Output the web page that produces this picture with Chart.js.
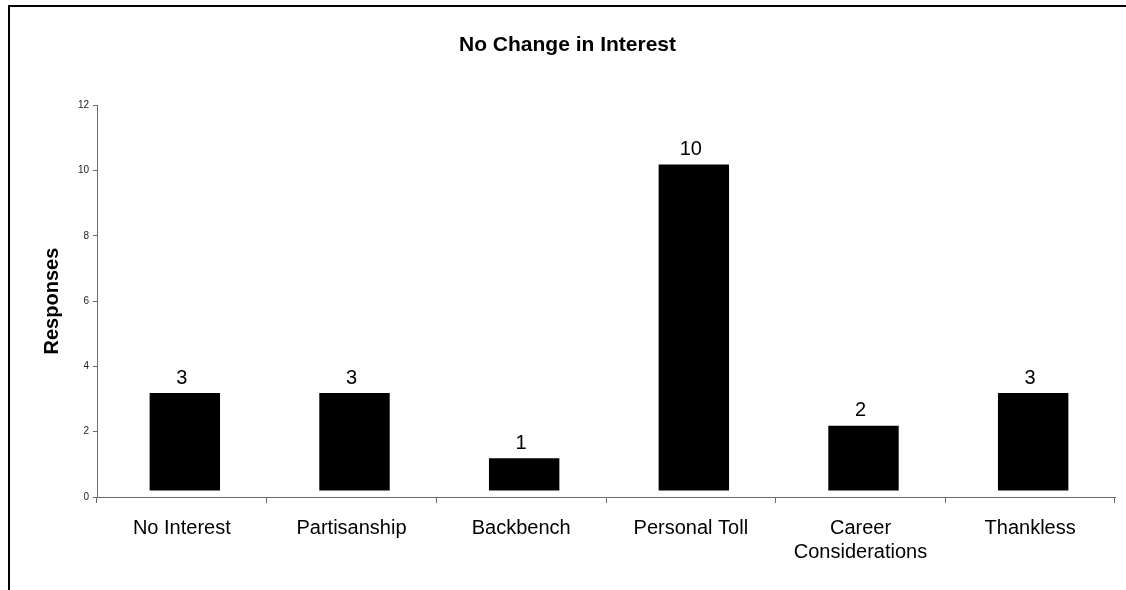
<!DOCTYPE html>
<html>
<head>
<meta charset="utf-8">
<title>No Change in Interest</title>
<script src="https://cdn.jsdelivr.net/npm/chart.js@4/dist/chart.umd.min.js"></script>
<style>
  html, body { margin: 0; padding: 0; background: #fff; }
  #wrap { position: relative; width: 1126px; height: 590px; }
</style>
</head>
<body>
<div id="wrap"><canvas id="interestChart"></canvas></div>
<script>
// Survey answers per reason
const categories = ['No Interest', 'Partisanship', 'Backbench', 'Personal Toll', ['Career', 'Considerations'], 'Thankless'];
const responses = [3, 3, 1, 10, 2, 3];
const yTicks = [0, 2, 4, 6, 8, 10, 12];

const FONT = 'Arial, "Liberation Sans", Helvetica, sans-serif';
const AXIS = '#6b6b6b';

// the outer frame (top and left edge only)
const framePlugin = {
  id: 'frame',
  beforeDraw(chart) {
    const ctx = chart.ctx;
    ctx.save();
    ctx.strokeStyle = '#000';
    ctx.lineWidth = 2;
    ctx.beginPath();
    ctx.moveTo(9, chart.height);
    ctx.lineTo(9, 6);
    ctx.lineTo(chart.width, 6);
    ctx.stroke();
    ctx.restore();
  }
};

// bars sit a little right/up of their slot
const barShift = {
  id: 'barShift',
  beforeDatasetsDraw(chart) {
    chart.ctx.save();
    chart.ctx.translate(3, -6);
  },
  afterDatasetsDraw(chart) {
    chart.ctx.restore();
  }
};

// value above each bar
const valueLabels = {
  id: 'valueLabels',
  afterDraw(chart) {
    const ctx = chart.ctx;
    const meta = chart.getDatasetMeta(0);
    const y = chart.scales.y;
    ctx.save();
    ctx.font = '20px ' + FONT;
    ctx.fillStyle = '#000';
    ctx.textAlign = 'center';
    ctx.textBaseline = 'middle';
    meta.data.forEach((bar, i) => {
      const v = responses[i];
      ctx.fillText(String(v), bar.x, y.getPixelForValue(v) - 21);
    });
    ctx.restore();
  }
};

new Chart(document.getElementById('interestChart'), {
  type: 'bar',
  data: {
    labels: categories,
    datasets: [{
      data: responses,
      backgroundColor: '#000',
      borderColor: '#000',
      borderWidth: 0,
      categoryPercentage: 1,
      barPercentage: 0.415
    }]
  },
  options: {
    responsive: true,
    maintainAspectRatio: false,
    animation: false,
    layout: { padding: { left: 20, right: 11, top: 0, bottom: 0 } },
    plugins: {
      legend: { display: false },
      tooltip: { enabled: false },
      title: {
        display: true,
        text: 'No Change in Interest',
        color: '#000',
        font: { family: FONT, size: 21, weight: 'bold', lineHeight: 1.2 },
        padding: { top: 33, bottom: 47 }
      }
    },
    scales: {
      x: {
        grid: {
          display: true,
          drawOnChartArea: false,
          drawTicks: true,
          tickLength: 6,
          color: AXIS,
          offset: true
        },
        border: { color: AXIS, width: 1 },
        ticks: {
          color: '#000',
          padding: 13,
          maxRotation: 0,
          autoSkip: false,
          font: { family: FONT, size: 20, lineHeight: 1.2 }
        },
        afterFit: scale => { scale.height = 93; }
      },
      y: {
        min: 0,
        max: 12,
        afterBuildTicks: scale => { scale.ticks = yTicks.map(v => ({ value: v })); },
        grid: {
          display: true,
          drawOnChartArea: false,
          drawTicks: true,
          tickLength: 4,
          color: AXIS
        },
        border: { color: AXIS, width: 1 },
        ticks: {
          color: '#222',
          padding: 4,
          font: { family: FONT, size: 10 }
        },
        title: {
          display: true,
          text: 'Responses',
          color: '#000',
          font: { family: FONT, size: 20, weight: 'bold', lineHeight: 1.2 },
          padding: { top: 20, bottom: 0 }
        },
        afterFit: scale => { scale.width = 77; }
      }
    }
  },
  plugins: [framePlugin, barShift, valueLabels]
});
</script>
</body>
</html>
